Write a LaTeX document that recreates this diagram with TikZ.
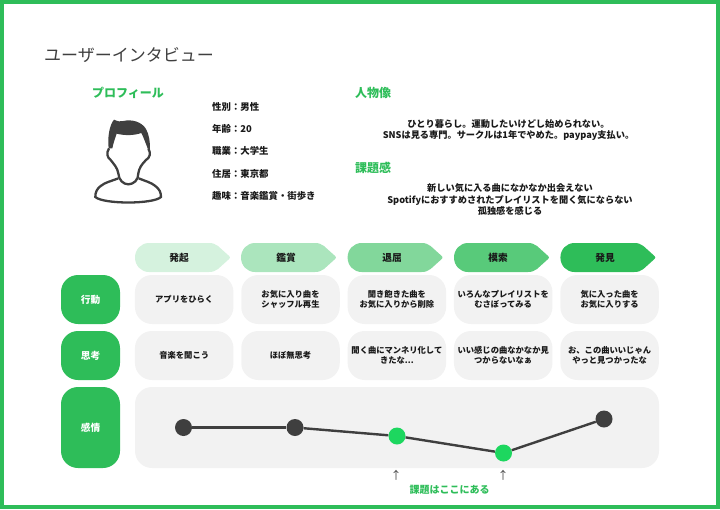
\documentclass[tikz,border=0pt]{standalone}
\usepackage{fontspec}
\setmainfont{Noto Sans CJK JP}
\usepackage{tikz}
\definecolor{brandgreen}{HTML}{2EBD59}
\definecolor{dotgreen}{HTML}{1DD75F}
\definecolor{inkgray}{HTML}{3F3F3F}
\definecolor{cardgray}{HTML}{F2F2F2}

\begin{document}
\begin{tikzpicture}[
  x=1pt,y=-1pt,
  every node/.style={inner sep=0pt,text=black!90},
  heading/.style={font=\fontsize{12}{14}\selectfont\bfseries,text=brandgreen,anchor=west},
  info/.style={font=\fontsize{9.4}{11}\selectfont\bfseries,anchor=west},
  blurb/.style={font=\fontsize{9.2}{11.6}\selectfont\bfseries,align=center},
  phasetext/.style={font=\fontsize{9.7}{12}\selectfont\bfseries},
  card/.style={
    fill=cardgray,
    rounded corners=17pt,
    minimum width=98.5pt,
    minimum height=49pt,
    align=center,
    font=\fontsize{8.3}{10.4}\selectfont\bfseries
  },
  rowlabel/.style={
    fill=brandgreen,
    rounded corners=17pt,
    minimum width=59pt,
    minimum height=49pt,
    text=white,
    font=\fontsize{9.7}{12}\selectfont\bfseries
  },
  dot/.style={circle,minimum size=17pt},
  curve/.style={line width=2.4pt,inkgray},
  phase/.pic={
    \fill[pic actions] (14,0) -- (74,0) .. controls (78,0) and (80,1) .. (83,3) -- (93,12)
      .. controls (95.5,14) and (95.5,15) .. (93,17) -- (83,26) .. controls (80,28) and (78,29) .. (74,29)
      -- (14,29) .. controls (6,29) and (0,22.5) .. (0,14.5) .. controls (0,6.5) and (6,0) .. (14,0) -- cycle;
  }
]
\useasboundingbox (0,0) rectangle (720,509);
\draw[brandgreen,line width=4pt] (2,2) rectangle (718,507);

\node[anchor=west,text=inkgray,font=\fontsize{17}{20}\selectfont] (title) at (44,55) {ユーザーインタビュー};

% profile
\node[heading,anchor=center] (profile) at (128,93) {プロフィール};
\begin{scope}[shift={(70,105)},scale=1/3]
 \fill[inkgray] (116,130) .. controls (112,100) and (118,60) .. (132,44) .. controls (145,50) and (150,50) .. (160,48)
   .. controls (185,42) and (215,50) .. (228,72) .. controls (238,90) and (240,110) .. (240,132) -- (233,130)
   .. controls (225,110) and (220,95) .. (214,84) .. controls (190,92) and (165,92) .. (140,86)
   .. controls (135,100) and (130,115) .. (127,130) -- cycle;
 \draw[inkgray,line width=2.3pt] (117,130) .. controls (108,145) and (112,158) .. (122,165) .. controls (132,178) and (142,188) .. (145,205)
   .. controls (146,225) and (160,238) .. (175,238) .. controls (190,238) and (206,225) .. (205,205)
   .. controls (207,190) and (215,178) .. (228,165) .. controls (240,158) and (243,145) .. (235,130);
 \draw[inkgray,line width=2.3pt] (145,220) .. controls (125,228) and (105,232) .. (92,243) .. controls (80,252) and (76,262) .. (76,276)
   .. controls (100,298) and (250,298) .. (273,276) .. controls (273,262) and (268,252) .. (256,243)
   .. controls (243,232) and (225,228) .. (206,220);
\end{scope}

\node[info] (sex) at (212,107) {性別：男性};
\node[info] (age) at (212,129) {年齢：20};
\node[info] (job) at (212,151) {職業：大学生};
\node[info] (home) at (212,174) {住居：東京都};
\node[info] (hobby) at (212,196) {趣味：音楽鑑賞・街歩き};

% persona
\node[heading] (persona) at (355,93) {人物像};
\node[blurb] (personatext) at (508.5,130) {ひとり暮らし。運動したいけどし始められない。\\SNSは見る専門。サークルは1年でやめた。paypay支払い。};
\node[heading] (issue) at (355,168) {課題感};
\node[blurb] (issuetext) at (510,199.5) {新しい気に入る曲になかなか出会えない\\Spotifyにおすすめされたプレイリストを聞く気にならない\\孤独感を感じる};

% phases
\pic[fill=brandgreen!20] at (135,243) {phase};
\pic[fill=brandgreen!40] at (241,243) {phase};
\pic[fill=brandgreen!60] at (347.6,243) {phase};
\pic[fill=brandgreen!80] at (454,243) {phase};
\pic[fill=brandgreen] at (560.4,243) {phase};
\node[phasetext] (ph1) at (179,257.5) {発起};
\node[phasetext] (ph2) at (286,257.5) {鑑賞};
\node[phasetext] (ph3) at (392,257.5) {退屈};
\node[phasetext] (ph4) at (498,257.5) {模索};
\node[phasetext] (ph5) at (605,257.5) {発見};

% rows
\node[rowlabel] (act) at (90.5,299.5) {行動};
\node[rowlabel] (think) at (90.5,355.5) {思考};
\node[rowlabel,minimum height=81pt] (feel) at (90.5,427.5) {感情};

\node[card] (act1) at (184.2,299.5) {アプリをひらく};
\node[card] (act2) at (290.5,299.5) {お気に入り曲を\\シャッフル再生};
\node[card] (act3) at (396.9,299.5) {聞き飽きた曲を\\お気に入りから削除};
\node[card] (act4) at (503.2,299.5) {いろんなプレイリストを\\むさぼってみる};
\node[card] (act5) at (609.6,299.5) {気に入った曲を\\お気に入りする};
\node[card] (think1) at (184.2,355.5) {音楽を聞こう};
\node[card] (think2) at (290.5,355.5) {ほぼ無思考};
\node[card] (think3) at (396.9,355.5) {聞く曲にマンネリ化して\\きたな...};
\node[card] (think4) at (503.2,355.5) {いい感じの曲なかなか見\\つからないなぁ};
\node[card] (think5) at (609.6,355.5) {お、この曲いいじゃん\\やっと見つかったな};

% emotion curve
\node[card,minimum width=524pt,minimum height=81pt] (track) at (397,427.5) {};
\node[dot,fill=inkgray] (e1) at (183.5,427.5) {};
\node[dot,fill=inkgray] (e2) at (295,427.5) {};
\node[dot,fill=dotgreen] (e3) at (397,436) {};
\node[dot,fill=dotgreen] (e4) at (503.5,453) {};
\node[dot,fill=inkgray] (e5) at (604,419) {};
\draw[curve] (e1) -- (e2);
\draw[curve] (e2) -- (e3);
\draw[curve] (e3) -- (e4);
\draw[curve] (e4) -- (e5);

\node[text=inkgray,font=\fontsize{11}{12}\selectfont] (up1) at (396,475) {↑};
\node[text=inkgray,font=\fontsize{11}{12}\selectfont] (up2) at (503,475) {↑};
\node[text=brandgreen,font=\fontsize{10}{12}\selectfont\bfseries] (here) at (449.5,490) {課題はここにある};
\end{tikzpicture}
\end{document}
